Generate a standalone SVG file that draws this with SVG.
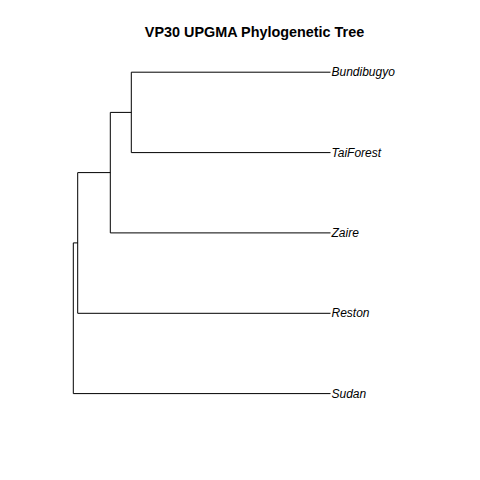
<svg xmlns="http://www.w3.org/2000/svg" width="480" height="480" viewBox="0 0 480 480">
<style>
.e{stroke:#000;stroke-width:1;fill:none}
.t{font-family:"Liberation Sans",Arial,sans-serif;font-size:12px;font-style:italic;fill:#000}
.h{font-family:"Liberation Sans",Arial,sans-serif;font-size:14.4px;font-weight:bold;fill:#000}
</style>
<rect width="480" height="480" fill="#fff"/>
<text class="h" x="254.5" y="37" text-anchor="middle">VP30 UPGMA Phylogenetic Tree</text>
<g id="connectors">
<path class="e" d="M131.3 72.2V152.6M131.3 72.2H330.5M131.3 152.6H330.5"/>
<path class="e" d="M110.3 112.4V232.9M110.3 112.4H131.3M110.3 232.9H330.5"/>
<path class="e" d="M77.7 172.6V313.3M77.7 172.6H110.3M77.7 313.3H330.5"/>
<path class="e" d="M73.3 242.9V393.6M73.3 242.9H77.7M73.3 393.6H330.5"/>
</g>
<g id="Bundibugyo"><text class="t" x="331.5" y="76.2">Bundibugyo</text></g>
<g id="TaiForest"><text class="t" x="331.5" y="156.6">TaiForest</text></g>
<g id="Zaire"><text class="t" x="331.5" y="236.9">Zaire</text></g>
<g id="Reston"><text class="t" x="331.5" y="317.3">Reston</text></g>
<g id="Sudan"><text class="t" x="331.5" y="397.6">Sudan</text></g>
</svg>
